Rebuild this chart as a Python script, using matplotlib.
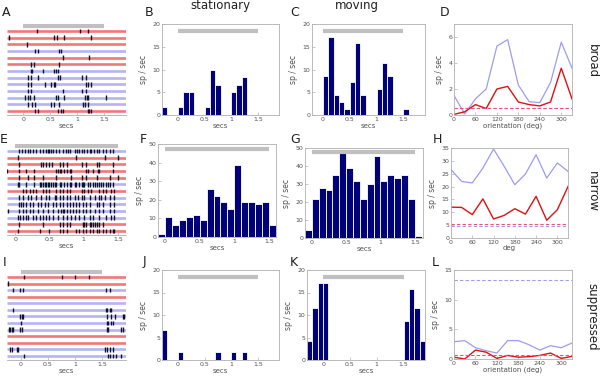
import matplotlib
matplotlib.use("Agg")
import matplotlib.pyplot as plt
import numpy as np

# ---------------- data ----------------
RED, BLUE = "red", "blue"

# raster A (broad) : row colour + spike times (s)
A_colors = [RED, RED, RED, BLUE, RED, RED, BLUE, BLUE, BLUE, BLUE, BLUE, BLUE, RED]
A_spikes = [
    [0.26, 1.05, 1.19],
    [-0.27, 0.56, 0.63, 0.75, 1.25],
    [0.07],
    [0.22, 0.27, 0.67, 0.70],
    [0.73, 1.22],
    [0.15, 0.19, 0.67],
    [0.14, 0.16, 0.37, 0.57, 0.60, 0.65],
    [0.08, 0.14, 0.28, 0.65, 0.68, 1.08, 1.16],
    [0.08, 0.14, 0.40, 0.52, 0.56, 0.59, 1.16, 1.20, 1.25],
    [0.08, 0.14, 0.74, 1.08, 1.16],
    [0.04, 0.08, 0.12, 0.20, 0.60, 0.65, 0.75, 1.14, 1.17, 1.20, 1.53],
    [0.08, 0.17, 0.22, 0.51, 0.56, 0.67, 1.10, 1.14, 1.19],
    [0.22, 0.27, 0.65, 0.69, 0.74, 1.19, 1.22, 1.25],
]

# raster E (narrow)
E_colors = [BLUE, RED, RED, RED, RED, BLUE, RED, BLUE, BLUE, BLUE, BLUE, RED, RED]
E_spikes = [
    [0.05, 0.10, 0.14, 0.19, 0.22, 0.26, 0.30, 0.36, 0.40, 0.45, 0.48, 0.50, 0.53, 0.55, 0.60, 0.64,
     0.70, 0.74, 0.77, 0.80, 0.87, 0.90, 0.94, 0.97, 1.01, 1.05, 1.09, 1.11, 1.15, 1.20, 1.23, 1.29,
     1.33, 1.38, 1.43],
    [0.04, 0.89, 1.31, 1.50],
    [0.05, 0.38, 0.40, 0.45, 0.50, 0.54, 0.66, 0.70, 0.75, 0.97, 1.04, 1.19, 1.23, 1.43],
    [-0.12, 0.06, 0.16, 0.28, 0.60, 0.62, 0.65, 0.67, 0.72, 0.75, 0.80, 0.82, 1.04, 1.06, 1.14, 1.21,
     1.23, 1.43],
    [0.06, 0.19, 0.28, 0.40, 0.60, 0.82, 0.97, 1.04, 1.19, 1.38, 1.50],
    [0.04, 0.06, 0.16, 0.28, 0.36, 0.38, 0.40, 0.43, 0.45, 0.48, 0.50, 0.53, 0.55, 0.58, 0.60, 0.65,
     0.67, 0.72, 0.75, 0.80, 0.82, 0.87, 0.89, 0.94, 0.97, 0.99, 1.01, 1.06, 1.09, 1.14, 1.16, 1.19,
     1.23, 1.26, 1.28, 1.33, 1.36, 1.38, 1.43],
    [0.11, 0.16, 0.21, 0.26, 0.31, 0.40, 0.45, 0.50, 0.60, 0.65, 0.70, 0.75, 0.80, 0.97, 1.01, 1.06,
     1.11, 1.23, 1.28, 1.33, 1.40, 1.45],
    [0.06, 0.11, 0.19, 0.23, 0.31, 0.38, 0.45, 0.50, 0.58, 0.60, 0.65, 0.70, 0.75, 0.80, 0.87, 0.92,
     0.97, 1.01, 1.09, 1.16, 1.23, 1.26, 1.31, 1.38, 1.45],
    [0.06, 0.09, 0.11, 0.16, 0.21, 0.26, 0.33, 0.38, 0.43, 0.48, 0.55, 0.60, 0.65, 0.70, 0.75, 0.80,
     0.84, 0.89, 0.94, 0.99, 1.04, 1.09, 1.19, 1.23, 1.28, 1.38, 1.45],
    [-0.11, 0.06, 0.11, 0.16, 0.21, 0.26, 0.33, 0.40, 0.48, 0.55, 0.62, 0.67, 0.70, 0.72, 0.75, 0.80,
     0.84, 0.89, 0.94, 0.99, 1.04, 1.09, 1.16, 1.23, 1.28, 1.38, 1.45],
    [0.04, 0.07, 0.11, 0.16, 0.19, 0.26, 0.31, 0.36, 0.40, 0.45, 0.50, 0.55, 0.62, 0.70, 0.75, 0.82,
     0.87, 0.94, 1.01, 1.09, 1.14, 1.23, 1.33, 1.40, 1.45],
    [0.06, 0.40, 0.65, 0.70, 0.75, 0.80, 0.99, 1.01, 1.04, 1.09, 1.11, 1.14, 1.16, 1.19, 1.23, 1.28],
    [0.04, 0.36, 0.50, 0.65, 0.70, 0.75, 0.89, 0.94, 0.99, 1.04, 1.09, 1.14, 1.19, 1.23, 1.28, 1.33,
     1.38, 1.43, 1.45],
]

# raster I (suppressed)
I_colors = [RED, RED, BLUE, RED, BLUE, BLUE, BLUE, BLUE, BLUE, RED, RED, BLUE, BLUE]
I_spikes = [
    [0.06, 0.77, 1.00, 1.27],
    [-0.25],
    [-0.15, -0.02, 0.04, 1.57, 1.65],
    [],
    [],
    [-0.15, 1.57, 1.60, 1.65, 1.68],
    [-0.02, 0.01, 0.04, 1.59, 1.68, 1.74, 1.90, 1.91],
    [0.00, 1.59, 1.62, 1.68, 1.71],
    [-0.23, -0.20, -0.17, -0.14, -0.02, 0.01, 1.59, 1.62, 1.86, 1.90],
    [],
    [],
    [-0.20, -0.17, -0.08, -0.05, 1.56, 1.59, 1.65, 1.71],
    [0.06, 1.62, 1.65, 1.71, 1.77, 1.86],
]

# PSTHs: bin left edges (s) and rates (sp/sec)
B_bins = [-0.3, 0.0, 0.1, 0.2, 0.5, 0.6, 0.7, 1.0, 1.1, 1.2]
B_rate = [1.7, 1.7, 5.0, 5.0, 1.7, 10.0, 6.7, 5.0, 6.7, 8.3]
C_bins = [0.0, 0.1, 0.2, 0.3, 0.4, 0.5, 0.6, 0.7, 1.0, 1.1, 1.2, 1.5]
C_rate = [8.6, 17.2, 4.3, 2.9, 1.4, 7.2, 15.8, 4.3, 5.7, 11.5, 8.6, 1.4]
F_bins = [-0.1, 0.0, 0.1, 0.2, 0.3, 0.4, 0.5, 0.6, 0.7, 0.8, 0.9, 1.0, 1.1, 1.2, 1.3, 1.4, 1.5]
F_rate = [1.6, 10.6, 6.5, 9.3, 10.6, 12.0, 9.3, 26.0, 22.0, 19.0, 15.0, 38.5, 19.0, 19.0, 17.6, 19.0, 6.5]
G_bins = [-0.1, 0.0, 0.1, 0.2, 0.3, 0.4, 0.5, 0.6, 0.7, 0.8, 0.9, 1.0, 1.1, 1.2, 1.3, 1.4, 1.5]
G_rate = [4.7, 21.5, 28.0, 26.6, 35.0, 47.0, 38.8, 31.8, 21.5, 30.0, 45.3, 31.8, 35.0, 33.3, 35.0, 21.5, 1.3]
J_bins = [-0.3, 0.0, 0.7, 1.0, 1.2]
J_rate = [6.7, 1.7, 1.7, 1.7, 1.7]
K_bins = [-0.3, -0.2, -0.1, 0.0, 1.5, 1.6, 1.7, 1.8]
K_rate = [4.3, 11.5, 17.2, 17.2, 8.6, 15.8, 11.5, 4.3]

# tuning curves
orient = [0, 30, 60, 90, 120, 150, 180, 210, 240, 270, 300, 330]
D_blue = [1.5, 0.08, 1.24, 2.0, 5.3, 5.8, 2.3, 1.03, 0.95, 2.5, 5.6, 3.6]
D_red = [0.05, 0.25, 0.8, 0.5, 2.0, 2.2, 1.0, 0.8, 0.7, 1.0, 3.6, 1.24]
D_base_blue, D_base_red = 0.57, 0.57
H_blue = [26.6, 22.0, 21.4, 27.2, 34.6, 27.9, 20.7, 24.9, 32.4, 23.3, 29.2, 25.9]
H_red = [12.0, 11.9, 9.1, 15.2, 7.4, 8.8, 11.4, 9.3, 16.2, 6.9, 11.0, 20.0]
H_base_blue, H_base_red = 4.8, 5.6
L_blue = [2.9, 3.1, 1.9, 1.4, 1.0, 3.1, 3.1, 2.4, 1.5, 2.25, 1.9, 2.7]
L_red = [0.3, 0.0, 1.5, 1.15, 0.1, 0.6, 0.3, 0.4, 0.6, 1.0, 0.1, 0.45]
L_base_blue, L_base_red = 13.35, 0.7

stim_on, stim_off = 0.0, 1.5

# ---------------- style ----------------
plt.rcParams['font.family'] = ['DejaVu Sans']
ROW_RED = '#f07878'
ROW_BLUE = '#b4b4f4'
LINE_RED = '#e01010'
LINE_BLUE = '#9c9cf0'
BAR_COL = '#00007a'
STIM_COL = '#c0c0c0'
SPINE = '#b0b0b0'
TXT = '#505050'

W, H = 600, 376
fig = plt.figure(figsize=(6.0, 3.76), dpi=100)


def px_axes(l, t, r, b):
    return fig.add_axes([l / W, 1 - b / H, (r - l) / W, (b - t) / H])


def style(ax):
    for s in ax.spines.values():
        s.set_color(SPINE)
        s.set_linewidth(0.6)
    ax.tick_params(labelsize=4.5, colors=SPINE, labelcolor=TXT, direction='in',
                   length=2, width=0.5, pad=1.2)


def raster(box, colors, spikes, xlim, xticks, xticklabels):
    ax = px_axes(*box)
    n = len(colors)
    for i, (c, sp) in enumerate(zip(colors, spikes)):
        y = i + 1
        ax.plot(xlim, [y, y], color=ROW_RED if c == RED else ROW_BLUE, lw=1.9,
                solid_capstyle='butt', zorder=1)
        ax.vlines(sp, y - 0.35, y + 0.35, color='#101030', lw=1.0, zorder=2)
    ax.plot([stim_on, stim_off], [0.25, 0.25], color=STIM_COL, lw=3.0,
            solid_capstyle='butt')
    ax.set_xlim(xlim)
    ax.set_ylim(n + 0.6, -0.05)
    style(ax)
    for s in ['top', 'left', 'right']:
        ax.spines[s].set_visible(False)
    ax.set_yticks([])
    ax.set_xticks(xticks)
    ax.set_xticklabels(xticklabels)
    ax.set_xlabel('secs', fontsize=5, color=TXT, labelpad=1)
    return ax


def psth(box, bins, rate, xlim, ylim, yticks, stim_y):
    ax = px_axes(*box)
    ax.bar(bins, rate, width=0.1, align='edge', color=BAR_COL,
           edgecolor='white', linewidth=0.6, zorder=2)
    ax.plot([stim_on, stim_off], [stim_y, stim_y], color=STIM_COL, lw=3.0,
            solid_capstyle='butt', zorder=3)
    ax.set_xlim(xlim)
    ax.set_ylim(ylim)
    ax.set_yticks(yticks)
    ax.set_xticks([0, 0.5, 1, 1.5])
    ax.set_xticklabels(['0', '0.5', '1', '1.5'])
    style(ax)
    ax.set_ylabel('sp / sec', fontsize=5.5, color=TXT, labelpad=3)
    ax.set_xlabel('secs', fontsize=5, color=TXT, labelpad=1)
    return ax


def tuning(box, blue, red, base_blue, base_red, ylim, yticks, xlabel):
    ax = px_axes(*box)
    ax.plot(orient, blue, color=LINE_BLUE, lw=0.9)
    ax.plot(orient, red, color=LINE_RED, lw=1.0)
    ax.axhline(base_blue, color=LINE_BLUE, lw=0.8, ls=(0, (3, 2)))
    ax.axhline(base_red, color='#f05080', lw=0.8, ls=(0, (3, 2)))
    ax.set_xlim(0, 330)
    ax.set_ylim(ylim)
    ax.set_yticks(yticks)
    ax.set_xticks([0, 60, 120, 180, 240, 300])
    style(ax)
    ax.set_ylabel('sp / sec', fontsize=5.5, color=TXT, labelpad=3)
    ax.set_xlabel(xlabel, fontsize=5, color=TXT, labelpad=0.3)
    return ax


# row 1 - broad
raster((7, 24, 126, 115), A_colors, A_spikes, (-0.3, 1.9), [0, 0.5, 1, 1.5],
       ['0', '0.5', '1', '1.5'])
psth((162, 24, 279, 115), B_bins, B_rate, (-0.3, 1.9), (0, 20), [0, 5, 10, 15, 20], 18.5)
psth((312, 24, 425, 115), C_bins, C_rate, (-0.2, 1.9), (0, 20), [0, 5, 10, 15, 20], 18.5)
tuning((454, 24, 572, 115), D_blue, D_red, D_base_blue, D_base_red, (0, 7), [0, 2, 4, 6],
       'orientation (deg)')

# row 2 - narrow
raster((7, 144, 126, 235), E_colors, E_spikes, (-0.12, 1.62), [0, 0.5, 1, 1.5],
       ['0', '0.5', '1', '1.5'])
psth((158, 144, 276, 237), F_bins, F_rate, (-0.1, 1.6), (0, 50), [0, 10, 20, 30, 40, 50], 47.5)
psth((305, 148, 423, 238), G_bins, G_rate, (-0.1, 1.62), (0, 50), [0, 10, 20, 30, 40, 50], 47.5)
tuning((451, 148, 568, 238), H_blue, H_red, H_base_blue, H_base_red, (0, 35),
       [0, 5, 10, 15, 20, 25, 30, 35], 'deg')

# row 3 - suppressed
raster((7, 270, 126, 360), I_colors, I_spikes, (-0.26, 1.95), [0, 0.5, 1, 1.5],
       ['0', '0.5', '1', '1.5'])
psth((162, 270, 279, 360), J_bins, J_rate, (-0.3, 1.9), (0, 20), [0, 5, 10, 15, 20], 18.5)
psth((307, 270, 425, 360), K_bins, K_rate, (-0.3, 1.9), (0, 20), [0, 5, 10, 15, 20], 18.5)
tuning((454, 270, 572, 359), L_blue, L_red, L_base_blue, L_base_red, (0, 15), [0, 5, 10, 15],
       'orientation (deg)')

# panel letters
letters = {'A': (2, 12), 'B': (145, 12), 'C': (290, 12), 'D': (440, 12),
           'E': (0, 139), 'F': (140, 139), 'G': (290, 139), 'H': (433, 139),
           'I': (3, 262), 'J': (143, 262), 'K': (290, 262), 'L': (432, 262)}
for k, (x, y) in letters.items():
    fig.text(x / W, 1 - y / H, k, fontsize=9, color='#202020', ha='left', va='center')

fig.text(220 / W, 1 - 6 / H, 'stationary', fontsize=8.5, color='#202020', ha='center', va='center')
fig.text(357 / W, 1 - 6 / H, 'moving', fontsize=8.5, color='#202020', ha='center', va='center')

for lab, y in [('broad', 61), ('narrow', 192), ('suppressed', 317)]:
    fig.text(592 / W, 1 - y / H, lab, fontsize=8.5, color='#202020', rotation=270,
             ha='center', va='center')

fig.savefig('out.png', dpi=100)
